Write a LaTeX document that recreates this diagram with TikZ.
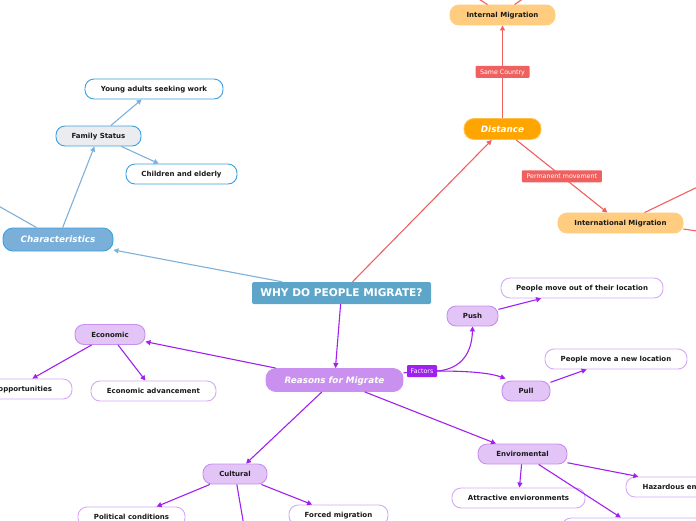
\documentclass[tikz,border=0pt]{standalone}
\usepackage{fontspec}
\setmainfont{DejaVu Sans}
\usetikzlibrary{arrows.meta,calc}
\definecolor{bline}{HTML}{7EB0D9}
\definecolor{bbord}{HTML}{3BA0E0}
\definecolor{whyfill}{HTML}{5DA5C9}
\definecolor{charfill}{HTML}{7AAFD9}
\definecolor{famfill}{HTML}{EAECEF}
\definecolor{rline}{HTML}{F0605F}
\definecolor{orange1}{HTML}{FFA500}
\definecolor{orange2}{HTML}{FFCC80}
\definecolor{pline}{HTML}{A020F0}
\definecolor{pmain}{HTML}{C990F0}
\definecolor{plight}{HTML}{E2C4F6}
\definecolor{pbord}{HTML}{C98FEF}
\definecolor{pwbord}{HTML}{D6A8F5}
\definecolor{txt}{HTML}{1A1A1A}
\tikzset{
  base/.style={rounded corners=9pt, minimum height=20pt, inner sep=0pt, line width=0.9pt, text=txt, text height=5.1pt, text depth=0pt, font=\fontsize{7}{8}\selectfont\bfseries},
  bluebox/.style={base, draw=bbord, fill=white},
  famstyle/.style={base, draw=bbord, fill=famfill},
  orbox/.style={base, draw=orange2, fill=orange2},
  plbox/.style={base, draw=pbord, fill=plight},
  pwbox/.style={base, draw=pwbord, fill=white},
  mainbox/.style={rounded corners=10pt, minimum height=23pt, inner sep=0pt, line width=0.9pt, text=white, text height=6.4pt, text depth=0pt, font=\fontsize{8.8}{10}\selectfont\bfseries\itshape},
  lbl/.style={inner sep=0pt, minimum height=12pt, text=white, text height=4.6pt, text depth=0pt, font=\fontsize{6.3}{7}\selectfont, rounded corners=1pt},
  bl/.style={draw=bline, line width=1.1pt, -{Triangle[length=5pt,width=5pt]}},
  rl/.style={draw=rline, line width=1.1pt, -{Triangle[length=5pt,width=5pt]}},
  pl/.style={draw=pline, line width=1.1pt, -{Triangle[length=5pt,width=5pt]}},
  blx/.style={draw=bline, line width=1.1pt},
  rlx/.style={draw=rline, line width=1.1pt},
  plx/.style={draw=pline, line width=1.1pt}
}
\begin{document}
\begin{tikzpicture}[x=1pt,y=-1pt]
\useasboundingbox (0,0) rectangle (696,520);
\clip (0,0) rectangle (696,520);
% title
\node[fill=whyfill, rounded corners=1.5pt, minimum width=179pt, minimum height=22pt, inner sep=0pt, text=white, text height=7.7pt, text depth=0pt, font=\fontsize{10.6}{12}\selectfont\bfseries] (why) at (341.5,293) {WHY DO PEOPLE MIGRATE?};
% characteristics branch
\node[mainbox, draw=bbord, fill=charfill, minimum width=110pt] (char) at (58,239.5) {Characteristics};
\node[famstyle, minimum width=85pt] (fam) at (98.5,136) {Family Status};
\node[bluebox, minimum width=138pt] (young) at (154,89) {Young adults seeking work};
\node[bluebox, minimum width=111pt] (child) at (181.5,174) {Children and elderly};
\coordinate (charoff) at (-12,200);
% distance branch
\node[mainbox, draw=orange1!70!white, fill=orange1, minimum width=77pt, minimum height=21pt] (dist) at (502.5,129) {Distance};
\node[orbox, minimum width=105pt] (intm) at (502.5,15) {Internal Migration};
\node[orbox, minimum width=125pt] (intl) at (620.5,223) {International Migration};
\coordinate (inoff1) at (474,-4);
\coordinate (inoff2) at (527,-4);
\coordinate (ioff1) at (710,181);
\coordinate (ioff2) at (710,233);
% reasons branch
\node[mainbox, draw=pmain, fill=pmain, minimum width=137pt] (reas) at (334.5,380) {Reasons for Migrate};
\node[plbox, minimum width=70pt] (econ) at (110,334.5) {Economic};
\node[pwbox, minimum width=116pt] (opp) at (14,389) {More opportunities};
\node[pwbox, minimum width=125pt] (adv) at (153.5,391) {Economic advancement};
\node[plbox, minimum width=64pt] (cult) at (235,474) {Cultural};
\node[pwbox, minimum width=107pt] (pol) at (131.5,517) {Political conditions};
\node[pwbox, minimum width=99pt] (forced) at (338.5,515) {Forced migration};
\coordinate (cultoff) at (244,526);
\node[plbox, minimum width=51pt] (push) at (472.5,316) {Push};
\node[plbox, minimum width=48pt] (pull) at (526,391) {Pull};
\node[pwbox, minimum width=162pt] (pout) at (582,288) {People move out of their location};
\node[pwbox, minimum width=142pt] (pnew) at (616,359) {People move a new location};
\node[lbl, fill=pline, minimum width=30pt] (fact) at (422,371) {Factors};
\node[plbox, minimum width=89pt] (env) at (522.5,454) {Enviromental};
\node[pwbox, minimum width=133pt] (attr) at (518.5,498) {Attractive envioronments};
\node[pwbox, minimum width=132pt] (haz) at (692,487) {Hazardous environments};
\node[pwbox, minimum width=150pt] (envlow) at (637,528) {};
% connectors
\draw[bl] (why) -- (char);
\draw[blx] (char.north west) ++(34,0) coordinate (cs) (cs) -- (charoff);
\draw[bl] (char) -- (fam);
\draw[bl] (fam) -- (young);
\draw[bl] (fam) -- (child);
\draw[rl] (why) -- (dist);
\draw[rl] (dist) -- node[lbl, fill=rline, minimum width=54pt] (sc) {Same Country} (intm);
\draw[rl] (dist) -- node[lbl, fill=rline, minimum width=80pt] (pm) {Permanent movement} (intl);
\draw[rlx] ($(intm.north west)+(38,0)$) -- (inoff1);
\draw[rlx] ($(intm.north west)+(65,0)$) -- (inoff2);
\draw[rlx] ($(intl.north west)+(87,0)$) -- (ioff1);
\draw[rlx] ($(intl.east)+(0,6)$) -- (ioff2);
\draw[pl] (why) -- (reas);
\draw[pl] (reas) -- (econ);
\draw[pl] (econ) -- (opp);
\draw[pl] (econ) -- (adv);
\draw[pl] (reas) -- (cult);
\draw[pl] (cult) -- (pol);
\draw[pl] (cult) -- (forced);
\draw[plx] (cult) -- (cultoff);
\draw[plx] (reas) -- (fact);
\draw[pl] (fact.east) .. controls (462,369) and (472,352) .. (push.south);
\draw[pl] (fact.east) .. controls (470,371) and (490,373) .. ($(pull.north west)+(4,-2)$);
\draw[pl] (push) -- (pout);
\draw[pl] (pull) -- (pnew);
\draw[pl] (reas) -- (env);
\draw[pl] (env) -- (attr);
\draw[pl] (env) -- (haz);
\draw[pl] (env) -- (envlow);
\end{tikzpicture}
\end{document}
